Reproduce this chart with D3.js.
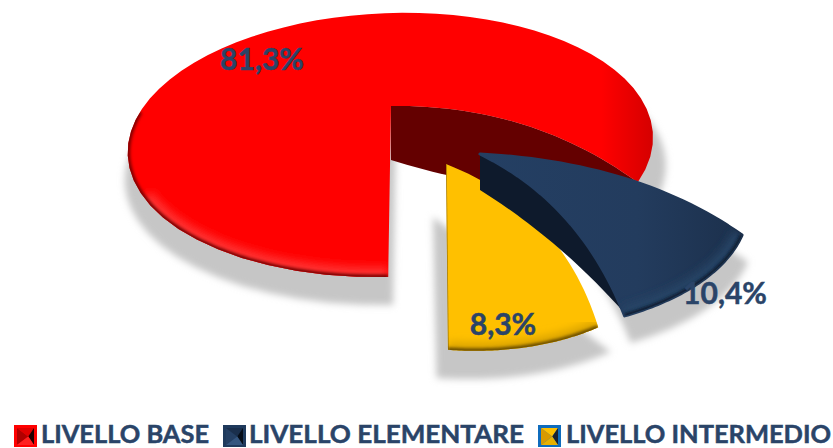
<!DOCTYPE html>
<html>
<head>
<meta charset="utf-8">
<script src="https://d3js.org/d3.v7.min.js"></script>
<style>
  body { margin: 0; padding: 0; background-color: white; }
  text { font-family: Lato, "Open Sans", sans-serif; font-weight: 700; fill: #2a4468; stroke: #2a4468; stroke-width: 0.5px; }
</style>
</head>
<body>
<svg id="chart" width="833" height="448"></svg>
<script>
// values
var categories = ["LIVELLO BASE", "LIVELLO ELEMENTARE", "LIVELLO INTERMEDIO"];
var values = [81.3, 10.4, 8.3];
var valueLabels = ["81,3%", "10,4%", "8,3%"];

// how each slice sits on the page (fake 3D, one perspective per slice)
var persp = 0.295;
var looks = [
  { ax: 391, ay: 106, rx: 251, ry: 120.5, k: -6, m: -2, over: 12, fill: "url(#redFace)", rim: "#7a0000", glow: "#ff3030", wall: "#640000",
    bendStart: [0, 0], bendEnd: [8, -20], depth: 54, wallEnd: [640, 190], wallBend: [0, 12],
    labelX: 262, labelY: 70, frontTo: 1.5 * Math.PI, glowTo: 1.3 * Math.PI },
  { ax: 480, ay: 154, rx: 263, ry: 124, k: 26, m: -27, over: 0, fill: "url(#blueFace)", rim: "#111f33", glow: "#284566", wall: "#0e1a2c",
    bendStart: [14, -16], bendEnd: [14, -16], depth: 36, wallEnd: [627, 316], wallBend: [4, -6],
    labelX: 725, labelY: 304 },
  { ax: 446, ay: 164, rx: 225, ry: 131, k: 16, m: 1.4, over: 0, fill: "#ffc000", rim: "#6b4d00", glow: "#d9a300", wall: null,
    bendStart: [20, -18], bendEnd: [0, 0], depth: 0,
    labelX: 503, labelY: 335 }
];
var shadows = [
  { dx: 5, dy: 28, sx: 1.03, sy: 1, cx: 391, cy: 145 },
  { dx: 6, dy: 27, sx: 1, sy: 1, cx: 600, cy: 235 },
  { dx: 0, dy: 17, sx: 1.16, sy: 1.16, cx: 520, cy: 280, apex: [433, 217] }
];

var svg = d3.select("#chart");
var defs = svg.append("defs");

var blur = function(id, s) {
  defs.append("filter").attr("id", id)
    .attr("x", "-20%").attr("y", "-20%").attr("width", "140%").attr("height", "140%")
    .append("feGaussianBlur").attr("stdDeviation", s);
};
blur("soft", 3.5);
blur("soft1", 1.5);
blur("soft3", 4);

var grad = function(id, x1, x2, stops) {
  var g = defs.append("linearGradient").attr("id", id)
    .attr("gradientUnits", "userSpaceOnUse")
    .attr("x1", x1).attr("x2", x2).attr("y1", 0).attr("y2", 0);
  stops.forEach(function(s) {
    g.append("stop").attr("offset", s[0]).attr("stop-color", s[1]);
  });
};
grad("redFace", 128, 654, [[0, "#ff0000"], [0.9, "#ff0000"], [1, "#d40000"]]);
grad("blueFace", 480, 742, [[0, "#243f63"], [0.6, "#233c5e"], [1, "#1c304c"]]);

// start at the bottom of the pie, go clockwise
var pie = d3.pie().sort(null).startAngle(Math.PI).endAngle(3 * Math.PI);
var arcs = pie(values);

var line = d3.line().x(function(d) { return d[0]; }).y(function(d) { return d[1]; });

function project(look, a) {
  var X = Math.sin(a), Y = -Math.cos(a);
  var f = 1 / (1 - persp * Y);
  return [look.ax + look.rx * X * f + look.m * Y * f,
          look.ay + look.ry * Y * f + look.k * X * f];
}
function rimPoints(look, a0, a1) {
  return d3.range(0, 61).map(function(i) {
    return project(look, a0 + (a1 - a0) * i / 60);
  });
}
// bowed line between two points
function bowed(p0, p1, b) {
  return d3.range(0, 31).map(function(i) {
    var t = i / 30, s = 4 * t * (1 - t);
    return [p0[0] + (p1[0] - p0[0]) * t + b[0] * s,
            p0[1] + (p1[1] - p0[1]) * t + b[1] * s];
  });
}
function faceOf(d, i) {
  var look = looks[i];
  var a1 = d.endAngle + look.over * Math.PI / 180;
  var rim = rimPoints(look, d.startAngle, a1);
  var apex = [look.ax, look.ay];
  return {
    rim: rim,
    pts: bowed(apex, rim[0], look.bendStart)
      .concat(rim)
      .concat(bowed(rim[rim.length - 1], apex, look.bendEnd))
  };
}

// shadows first
var shadowG = svg.append("g");
arcs.forEach(function(d, i) {
  var s = shadows[i], f = faceOf(d, i);
  var move = function(p) {
    return [s.cx + (p[0] - s.cx) * s.sx + s.dx, s.cy + (p[1] - s.cy) * s.sy + s.dy];
  };
  var pts = s.apex ? [s.apex].concat(f.rim.map(move)) : f.pts.map(move);
  shadowG.append("path").attr("d", line(pts) + "Z").attr("fill", "#c6c6c6").attr("filter", "url(#soft)");
});

var drawOrder = [0, 2, 1];
drawOrder.forEach(function(i) {
  var d = arcs[i], look = looks[i], f = faceOf(d, i);
  var g = svg.append("g");

  if (look.wall) {
    var end = f.rim[f.rim.length - 1];
    var apex = [look.ax, look.ay];
    var under = bowed([look.ax, look.ay + look.depth], look.wallEnd, look.wallBend);
    var wallPts = bowed(apex, end, look.bendEnd).concat(under.reverse());
    g.append("path").attr("d", line(wallPts) + "Z").attr("fill", look.wall);
  }

  var clipId = "face" + i;
  defs.append("clipPath").attr("id", clipId).append("path").attr("d", line(f.pts) + "Z");

  g.append("path").attr("d", line(f.pts) + "Z").attr("fill", look.fill)
    .attr("stroke", i === 1 ? look.fill : "none").attr("stroke-width", 3).attr("stroke-linejoin", "round");

  // bevel along the front of the rim
  var bevel = g.append("g").attr("clip-path", "url(#" + clipId + ")");
  var frontTo = look.frontTo || d.endAngle;
  var glowTo = look.glowTo || d.endAngle;
  bevel.append("path").attr("d", line(rimPoints(look, d.startAngle, glowTo))).attr("fill", "none")
    .attr("stroke", look.glow).attr("stroke-width", i === 2 ? 16 : 20).attr("filter", "url(#soft3)");
  bevel.append("path").attr("d", line(rimPoints(look, d.startAngle, frontTo))).attr("fill", "none")
    .attr("stroke", look.rim).attr("stroke-width", 5).attr("filter", "url(#soft1)");
  if (i === 2) {
    bevel.append("path").attr("d", "M" + look.ax + "," + look.ay + "L" + f.rim[60].join(","))
      .attr("stroke", look.rim).attr("stroke-width", 1.5).attr("fill", "none").attr("opacity", 0.6);
  }
});

// value labels
svg.append("g").selectAll("text").data(valueLabels).join("text")
  .attr("x", function(d, i) { return looks[i].labelX; })
  .attr("y", function(d, i) { return looks[i].labelY; })
  .attr("text-anchor", "middle")
  .attr("font-size", 30)
  .text(function(d) { return d; });

// legend
var legendX = [14, 223, 538];
var legendTextX = [41, 249, 566];
var legendTextW = [168, 275, 265];
var legendColors = [
  { edge: "#ff0000", side: "#b00000", back: "#e00000", core: "#200000", low: "#ff2020" },
  { edge: "#1f3a5c", side: "#243f63", back: "#1a2f4c", core: "#060d18", low: "#35567f" },
  { edge: "#0f6cbd", side: "#d99a00", back: "#ffc000", core: "#1a2030", low: "#e8b000" }
];
var key = svg.append("g").selectAll("g").data(categories).join("g");
key.each(function(d, i) {
  var g = d3.select(this), c = legendColors[i];
  var x = legendX[i], y = 425, s = 23, mx = x + s * 0.62, my = y + s * 0.5;
  var tri = function(pts, fill) { g.append("path").attr("d", line(pts) + "Z").attr("fill", fill); };
  g.append("rect").attr("x", x).attr("y", y).attr("width", s).attr("height", s - 1).attr("fill", c.edge);
  tri([[x + 3, y + 3], [mx, my], [x + 3, y + s - 3]], c.side);
  tri([[x + 3, y + 3], [x + s - 3, y + 3], [mx, my]], c.back);
  tri([[x + s - 3, y + 3], [x + s - 3, y + s - 3], [mx, my]], c.core);
  tri([[x + 3, y + s - 3], [x + s - 3, y + s - 3], [mx, my]], c.low);
  g.append("text").attr("x", legendTextX[i]).attr("y", 443).attr("font-size", 25)
    .attr("textLength", legendTextW[i]).attr("lengthAdjust", "spacingAndGlyphs").text(d);
});
</script>
</body>
</html>
